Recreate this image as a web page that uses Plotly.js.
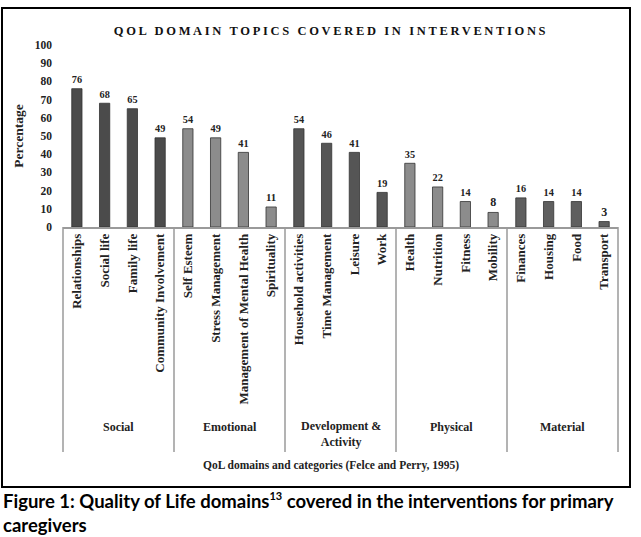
<!DOCTYPE html>
<html>
<head>
<meta charset="utf-8">
<script src="https://cdn.plot.ly/plotly-3.0.1.min.js"></script>
<style>
  body { margin: 0; padding: 0; background: #fff; }
  #chart { width: 641px; height: 537px; }
  .gtitle { letter-spacing: 2.65px; }
</style>
</head>
<body>
<div id="chart"></div>
<script>
// ---- Data ----
const categories = [
  "Relationships", "Social life", "Family life", "Community Involvement",
  "Self Esteem", "Stress Management", "Management of Mental Health", "Spirituality",
  "Household activities", "Time Management", "Leisure", "Work",
  "Health", "Nutrition", "Fitness", "Mobility",
  "Finances", "Housing", "Food", "Transport"
];
const values = [76, 68, 65, 49, 54, 49, 41, 11, 54, 46, 41, 19, 35, 22, 14, 8, 16, 14, 14, 3];
const groupNames = ["Social", "Emotional", "Development &<br>Activity", "Physical", "Material"];
const groupSizes = [4, 4, 4, 4, 4];
const groupColors = ["#4b4b4b", "#8c8c8c", "#555555", "#8c8c8c", "#5f5f5f"];
const yTickVals = [0, 10, 20, 30, 40, 50, 60, 70, 80, 90, 100];

// ---- Build ----
const barColors = [];
groupSizes.forEach((n, g) => { for (let i = 0; i < n; i++) barColors.push(groupColors[g]); });

const serif = "Liberation Serif, Times New Roman, serif";
const W = 641, H = 537;
const M = { l: 63, r: 23, t: 45, b: 310 };
const pw = W - M.l - M.r, ph = H - M.t - M.b;
const axisY = H - M.b;
// helpers converting page pixels to paper coords (layout only)
const px = x => (x - M.l) / pw;
const py = y => (axisY - y) / ph;

const nCat = categories.length;
const shapes = [];
let cum = 0;
const bounds = [0];
groupSizes.forEach(n => { cum += n; bounds.push(cum); });
bounds.forEach(b => {
  shapes.push({
    type: "line", xref: "paper", yref: "paper",
    x0: b / nCat, x1: b / nCat, y0: 0, y1: py(452),
    line: { color: "#9a9a9a", width: 1.5 }
  });
});
// outer frame
shapes.push({
  type: "rect", xref: "paper", yref: "paper",
  x0: px(2), x1: px(630), y0: py(487), y1: py(8),
  line: { color: "#000", width: 2 }, fillcolor: "rgba(0,0,0,0)"
});

const annotations = [];
groupNames.forEach((name, g) => {
  const center = (bounds[g] + bounds[g + 1]) / 2 / nCat;
  annotations.push({
    xref: "paper", yref: "paper", x: center, y: name.includes("<br>") ? py(434) : py(427),
    text: "<b>" + name + "</b>", showarrow: false, xanchor: "center", yanchor: "middle",
    font: { family: serif, size: 12, color: "#222" }
  });
});
annotations.push({
  xref: "paper", yref: "paper", x: px(331), y: py(466),
  text: "<b>QoL domains and categories (Felce and Perry, 1995)</b>", showarrow: false,
  xanchor: "center", yanchor: "middle",
  font: { family: serif, size: 11.5, color: "#222" }
});
annotations.push({
  xref: "paper", yref: "paper", x: px(2), y: py(488),
  text: "<b>Figure 1: Quality of Life domains<sup><span style=\"font-size:11px\">13</span></sup> covered in the interventions for primary<br>caregivers</b>",
  showarrow: false, xanchor: "left", yanchor: "top", align: "left", borderpad: 0,
  font: { family: "Lato, Noto Sans, sans-serif", size: 18.5, color: "#000" }
});

const trace = {
  type: "bar",
  x: categories,
  y: values,
  text: values.map(String),
  textposition: "outside",
  cliponaxis: false,
  textfont: { family: serif, size: 12, color: "#222", weight: "bold" },
  marker: { color: barColors, line: { color: "#333", width: 0.8 } },
  hoverinfo: "x+y"
};

const layout = {
  width: W, height: H,
  margin: M,
  paper_bgcolor: "#fff", plot_bgcolor: "#fff",
  showlegend: false,
  bargap: 0.63,
  title: {
    text: "QOL DOMAIN TOPICS COVERED IN INTERVENTIONS",
    x: 331 / W, xref: "container", xanchor: "center",
    y: 1 - 31 / H, yref: "container", yanchor: "middle",
    font: { family: serif, size: 12.5, color: "#111", weight: "bold" }
  },
  xaxis: {
    type: "category",
    range: [-0.5, nCat - 0.5],
    tickangle: -90,
    showline: true, linecolor: "#9a9a9a", linewidth: 1.5,
    ticks: "", showgrid: false, zeroline: false,
    tickfont: { family: serif, size: 13, color: "#222", weight: "bold" },
    fixedrange: true
  },
  yaxis: {
    range: [0, 100],
    tickvals: yTickVals,
    showgrid: false, zeroline: false, showline: false,
    ticks: "", ticklabelstandoff: 10,
    tickfont: { family: serif, size: 11.5, color: "#222", weight: "bold" },
    title: { text: "Percentage", standoff: 8, font: { family: serif, size: 13.5, color: "#222", weight: "bold" } },
    fixedrange: true
  },
  shapes: shapes,
  annotations: annotations
};

Plotly.newPlot("chart", [trace], layout, { displayModeBar: false, staticPlot: true });
</script>
</body>
</html>
